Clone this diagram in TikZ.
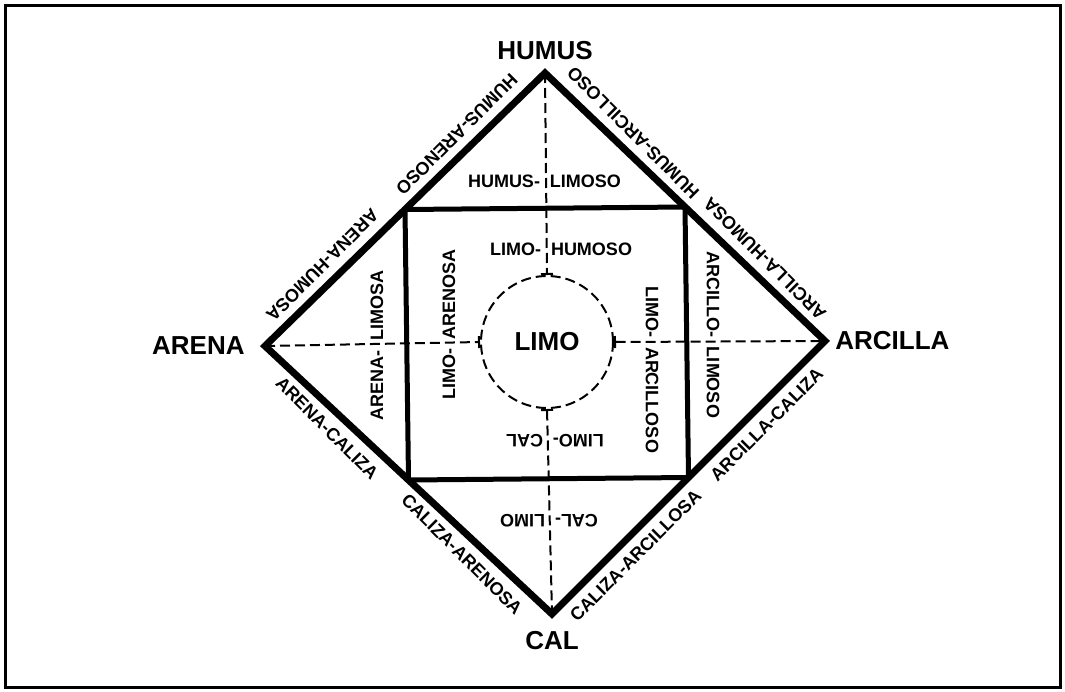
\documentclass[tikz,border=0pt]{standalone}
\usepackage{fontspec}
\setmainfont{Liberation Sans}
\usetikzlibrary{arrows.meta,positioning,calc}

\begin{document}
\begin{tikzpicture}[x=0.5pt,y=-0.5pt,
    outline/.style={line width=3.5pt},
    inner/.style={line width=2.5pt},
    guide/.style={line width=1pt,dash pattern=on 5pt off 2.5pt},
    mainlbl/.style={inner sep=0pt,font=\bfseries\fontsize{13}{15}\selectfont},
    zonelbl/.style={inner sep=0pt,font=\bfseries\fontsize{9}{11}\selectfont},
    edgelbl/.style={anchor=north,inner sep=5.5pt,font=\bfseries\fontsize{9}{11}\selectfont}]
  \useasboundingbox (0,0) rectangle (1065,691);
  \draw[line width=1.5pt] (5,5) rectangle (1060,687);

  % corners of the diamond
  \coordinate (hum) at (545,73);
  \coordinate (are) at (265,346);
  \coordinate (arc) at (825,341);
  \coordinate (cal) at (552,614);
  % inner square sits on the midpoints
  \coordinate (ha) at ($(hum)!0.5!(are)$);
  \coordinate (hr) at ($(hum)!0.5!(arc)$);
  \coordinate (rc) at ($(arc)!0.5!(cal)$);
  \coordinate (ac) at ($(are)!0.5!(cal)$);

  \node[circle,draw,guide,minimum size=66pt,
        font=\bfseries\fontsize{13}{15}\selectfont] (limo) at (547,342) {LIMO};

  \draw[guide,-{Bar[width=6pt]}] (hum) -- (limo.north);
  \draw[guide,-{Bar[width=6pt]}] (are) -- (limo.west);
  \draw[guide,{Bar[width=6pt]}-] (limo.east) -- (arc);
  \draw[guide,{Bar[width=6pt]}-] (limo.south) -- (cal);

  \draw[inner] (ha) -- (hr) -- (rc) -- (ac) -- cycle;
  \draw[outline] (hum) -- (arc) -- (cal) -- (are) -- cycle;

  % corner names
  \node[mainlbl,above=6.5pt of hum] (thum) {HUMUS};
  \node[mainlbl,left=10pt of are] (tare) {ARENA};
  \node[mainlbl,right=5pt of arc] (tarc) {ARCILLA};
  \node[mainlbl,below=8.5pt of cal] (tcal) {CAL};

  % zones inside
  \node[zonelbl] (zhl) at (545,181) {\llap{HUMUS-\hspace{2.5pt}}\rlap{\hspace{2.5pt}LIMOSO}};
  \node[zonelbl] (zlh) at (546,249) {\llap{LIMO-\hspace{2.5pt}}\rlap{\hspace{2.5pt}HUMOSO}};
  \node[zonelbl,rotate=180] (zlc) at (548,441) {\llap{LIMO-\hspace{2.5pt}}\rlap{\hspace{2.5pt}CAL}};
  \node[zonelbl,rotate=180] (zcl) at (550,521) {\llap{CAL-\hspace{2.5pt}}\rlap{\hspace{2.5pt}LIMO}};
  \node[zonelbl,rotate=90] (zal) at (377,345) {\llap{ARENA-\hspace{2.5pt}}\rlap{\hspace{2.5pt}LIMOSA}};
  \node[zonelbl,rotate=90] (zla) at (449,344) {\llap{LIMO-\hspace{2.5pt}}\rlap{\hspace{2.5pt}ARENOSA}};
  \node[zonelbl,rotate=-90] (zlr) at (652,342) {\llap{LIMO-\hspace{2.5pt}}\rlap{\hspace{2.5pt}ARCILLOSO}};
  \node[zonelbl,rotate=-90] (zrl) at (713,342) {\llap{ARCILLO-\hspace{2.5pt}}\rlap{\hspace{2.5pt}LIMOSO}};

  % along the edges
  \node[edgelbl,rotate=225] (eha) at ($(hum)!0.27!(are)$) {HUMUS-ARENOSO};
  \node[edgelbl,rotate=225] (eah) at ($(hum)!0.75!(are)$) {ARENA-HUMOSA};
  \node[edgelbl,rotate=135] (ehr) at ($(hum)!0.27!(arc)$) {HUMUS-ARCILLOSO};
  \node[edgelbl,rotate=135] (erh) at ($(hum)!0.74!(arc)$) {ARCILLA-HUMOSA};
  \node[edgelbl,rotate=-45] (eac) at ($(are)!0.26!(cal)$) {ARENA-CALIZA};
  \node[edgelbl,rotate=-45] (eca) at ($(are)!0.73!(cal)$) {CALIZA-ARENOSA};
  \node[edgelbl,rotate=45] (ecr) at ($(cal)!0.26!(arc)$) {CALIZA-ARCILLOSA};
  \node[edgelbl,rotate=45] (erc) at ($(cal)!0.74!(arc)$) {ARCILLA-CALIZA};
\end{tikzpicture}
\end{document}
